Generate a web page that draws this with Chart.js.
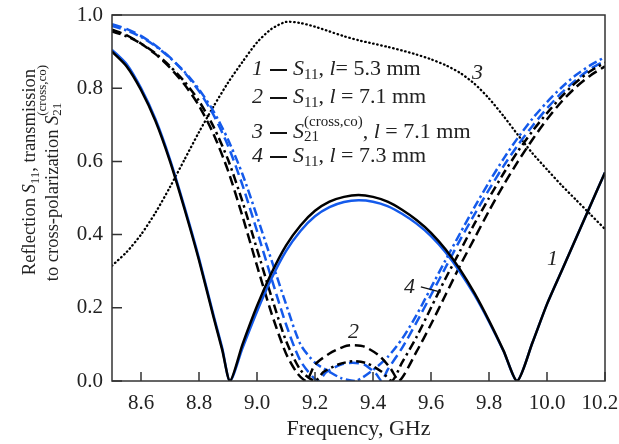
<!DOCTYPE html>
<html>
<head>
<meta charset="utf-8">
<script src="https://cdn.jsdelivr.net/npm/chart.js@4.4.1/dist/chart.umd.min.js"></script>
<style>
body { margin: 0; background: #fff; }
#wrap { position: relative; width: 619px; height: 444px; font-family: "Liberation Serif", serif; color: #222; }
canvas { position: absolute; left: 0; top: 0; }
.lbl { position: absolute; white-space: nowrap; font-size: 22px; line-height: 22px; }
.it { font-style: italic; }
.dash { display: inline-block; width: 17px; height: 2.4px; background: #111; vertical-align: middle; margin: 0 6px 0 7px; }
sub { font-size: 15px; vertical-align: -4px; line-height: 0; }
.stack { display: inline-block; vertical-align: -3px; font-size: 15px; line-height: 15px; }
.stack span { display: block; }
.ylab { position: absolute; white-space: nowrap; font-size: 18.5px; line-height: 19px; transform: translate(-50%, -50%) rotate(-90deg); }
.ylab sub, .ylab .stack { font-size: 13px; }
</style>
</head>
<body>
<div id="wrap">
<canvas id="myChart" width="619" height="444"></canvas>

<div class="ylab" style="left:29px;top:172px">Reflection <i>S</i><sub>11</sub>, transmission</div>
<div class="ylab" style="left:49px;top:173px">to cross-polarization <i>S</i><span class="stack"><span>(cross,co)</span><span>21</span></span></div>

<div class="lbl" style="left:252px;top:57px"><span class="it">1</span><span class="dash"></span><i>S</i><sub>11</sub>, <i>l</i>= 5.3 mm</div>
<div class="lbl" style="left:252px;top:85px"><span class="it">2</span><span class="dash"></span><i>S</i><sub>11</sub>, <i>l</i> = 7.1 mm</div>
<div class="lbl" style="left:252px;top:114px"><span class="it">3</span><span class="dash"></span><i>S</i><span class="stack"><span>(cross,co)</span><span>21</span></span>, <i>l</i> = 7.1 mm</div>
<div class="lbl" style="left:252px;top:144px"><span class="it">4</span><span class="dash"></span><i>S</i><sub>11</sub>, <i>l</i> = 7.3 mm</div>

<div class="lbl it" style="left:472px;top:61px">3</div>
<div class="lbl it" style="left:348px;top:320px">2</div>
<div class="lbl it" style="left:547px;top:247px">1</div>
<div class="lbl it" style="left:404px;top:275px">4</div>
</div>

<script>
// tick labels
const xTicks = [8.6, 8.8, 9.0, 9.2, 9.4, 9.6, 9.8, 10.0, 10.2];
const yTicks = [0, 0.2, 0.4, 0.6, 0.8, 1.0];

// curve 1, S11, l = 5.3 mm (black and blue solid)
const freq1 = [8.50,8.55,8.60,8.65,8.70,8.75,8.80,8.85,8.88,8.907,8.95,9.00,9.05,9.10,9.15,9.20,9.25,9.30,9.35,9.40,9.45,9.50,9.55,9.60,9.65,9.70,9.75,9.80,9.85,9.897,9.95,10.00,10.05,10.10,10.15,10.20];
const s11Black = [0.90,0.86,0.795,0.71,0.60,0.47,0.33,0.175,0.085,0,0.10,0.205,0.295,0.37,0.425,0.465,0.49,0.503,0.508,0.503,0.49,0.468,0.44,0.405,0.36,0.305,0.24,0.165,0.083,0,0.105,0.21,0.30,0.39,0.48,0.57];
const s11Blue = [0.905,0.866,0.80,0.715,0.605,0.475,0.335,0.18,0.09,0,0.09,0.19,0.28,0.355,0.41,0.45,0.475,0.489,0.494,0.49,0.478,0.457,0.43,0.396,0.352,0.298,0.235,0.162,0.082,0,0.105,0.21,0.30,0.39,0.48,0.57];

// curve 2, black dashed
const freqA = [8.50,8.55,8.60,8.65,8.70,8.75,8.80,8.85,8.90,8.95,9.00,9.05,9.10,9.14,9.17,9.20,9.25,9.30,9.33,9.37,9.42,9.46,9.49,9.55,9.60,9.65,9.70,9.75,9.80,9.85,9.90,9.95,10.00,10.05,10.10,10.15,10.20];
const valA = [0.96,0.945,0.922,0.893,0.856,0.81,0.752,0.675,0.575,0.45,0.315,0.185,0.075,0.02,0,0.045,0.075,0.094,0.098,0.094,0.07,0.035,0,0.08,0.155,0.235,0.315,0.39,0.465,0.535,0.60,0.66,0.715,0.763,0.803,0.835,0.86];

// curve 4, black dash-dot
const freqB = [8.50,8.55,8.60,8.65,8.70,8.75,8.80,8.85,8.90,8.95,9.00,9.05,9.10,9.15,9.20,9.23,9.28,9.33,9.38,9.43,9.465,9.50,9.55,9.60,9.65,9.70,9.75,9.80,9.85,9.90,9.95,10.00,10.05,10.10,10.15,10.20];
const valB = [0.955,0.942,0.922,0.895,0.86,0.818,0.765,0.695,0.605,0.49,0.36,0.23,0.11,0.03,0,0.025,0.045,0.054,0.048,0.025,0,0.05,0.12,0.20,0.28,0.355,0.43,0.50,0.567,0.628,0.683,0.732,0.777,0.816,0.847,0.87];

// blue dashed
const freqC1 = [8.50,8.55,8.60,8.65,8.70,8.75,8.80,8.85,8.90,8.95,9.00,9.05,9.10,9.15,9.21,9.24,9.29,9.33,9.37,9.41,9.43,9.45,9.50,9.55,9.60,9.65,9.70,9.75,9.80,9.85,9.90,9.95,10.00,10.05,10.10,10.15,10.20];
const valC1 = [0.975,0.962,0.943,0.917,0.884,0.843,0.792,0.727,0.643,0.535,0.41,0.28,0.155,0.055,0,0.025,0.045,0.05,0.045,0.02,0,0.03,0.09,0.16,0.235,0.31,0.385,0.455,0.523,0.587,0.645,0.697,0.745,0.787,0.823,0.853,0.875];

// blue dash-dot
const freqC2 = [8.50,8.55,8.60,8.65,8.70,8.75,8.80,8.85,8.90,8.95,9.00,9.05,9.10,9.15,9.20,9.25,9.29,9.34,9.40,9.45,9.50,9.55,9.60,9.65,9.70,9.75,9.80,9.85,9.90,9.95,10.00,10.05,10.10,10.15,10.20];
const valC2 = [0.97,0.958,0.94,0.915,0.883,0.845,0.797,0.737,0.66,0.565,0.45,0.33,0.21,0.1,0.05,0.025,0.008,0,0.03,0.065,0.115,0.18,0.255,0.33,0.403,0.475,0.543,0.607,0.665,0.717,0.762,0.802,0.836,0.863,0.885];

// curve 3, S21 cross-polarization (dotted)
const freq3 = [8.50,8.55,8.60,8.65,8.70,8.75,8.80,8.85,8.90,8.95,9.00,9.05,9.10,9.15,9.20,9.25,9.30,9.35,9.40,9.45,9.50,9.55,9.60,9.65,9.70,9.75,9.80,9.85,9.90,9.95,10.00,10.05,10.10,10.15,10.20];
const s21Cross = [0.315,0.352,0.40,0.46,0.53,0.605,0.68,0.75,0.815,0.872,0.925,0.962,0.981,0.978,0.968,0.955,0.942,0.931,0.922,0.913,0.903,0.892,0.879,0.863,0.842,0.812,0.772,0.724,0.672,0.622,0.578,0.535,0.495,0.455,0.415];

const BLUE = 'rgb(20,90,235)';
const FONT = '"Liberation Serif", serif';

function pts(xs, ys) {
    return xs.map((x, i) => ({ x: x, y: ys[i] }));
}

function line(data, color, dash, width) {
    return {
        data: data,
        borderColor: color,
        borderWidth: width || 2.5,
        borderDash: dash || [],
        pointRadius: 0,
        tension: 0.25,
        fill: false
    };
}

// box around the plot, inward ticks, leader line for label 4
const frame = {
    id: 'frame',
    afterDraw(chart) {
        const { ctx, chartArea: a, scales: { x, y } } = chart;
        ctx.save();
        ctx.strokeStyle = '#333';
        ctx.lineWidth = 1.5;
        ctx.strokeRect(a.left, a.top, a.right - a.left, a.bottom - a.top);
        ctx.beginPath();
        xTicks.forEach(v => {
            const px = x.getPixelForValue(v);
            ctx.moveTo(px, a.bottom);
            ctx.lineTo(px, a.bottom - 9);
        });
        yTicks.forEach(v => {
            const py = y.getPixelForValue(v);
            ctx.moveTo(a.left, py);
            ctx.lineTo(a.left + 10, py);
        });
        ctx.stroke();
        // leader for "4"
        ctx.lineWidth = 1.2;
        ctx.strokeStyle = '#111';
        ctx.beginPath();
        ctx.moveTo(x.getPixelForValue(9.565), y.getPixelForValue(0.257));
        ctx.lineTo(x.getPixelForValue(9.634), y.getPixelForValue(0.243));
        ctx.stroke();
        ctx.restore();
    }
};

function makeChart() {
    const ctx = document.getElementById('myChart').getContext('2d');
    return new Chart(ctx, {
        type: 'line',
        data: {
            datasets: [
                line(pts(freq1, s11Black), '#000'),
                line(pts(freq1, s11Blue), BLUE),
                line(pts(freqA, valA), '#000', [10, 5]),
                line(pts(freqB, valB), '#000', [9, 4, 2.5, 4]),
                line(pts(freqC1, valC1), BLUE, [10, 5]),
                line(pts(freqC2, valC2), BLUE, [9, 3.5, 2.5, 3.5]),
                Object.assign(line(pts(freq3, s21Cross), '#000', [0.5, 3.6], 2.3), { borderCapStyle: 'round' })
            ]
        },
        options: {
            responsive: false,
            animation: false,
            layout: { padding: { left: 0, right: 14, top: 15, bottom: 0 } },
            plugins: { legend: { display: false }, tooltip: { enabled: false } },
            scales: {
                x: {
                    type: 'linear', min: 8.5, max: 10.2,
                    grid: { display: false }, border: { display: false },
                    afterBuildTicks: s => { s.ticks = xTicks.map(v => ({ value: v })); },
                    afterFit: s => { s.height = 63; s.paddingRight = 0; s.paddingLeft = 0; },
                    // last label nudged left so it stays inside the page
                    ticks: { font: { family: FONT, size: 21 }, color: '#222', padding: 2, maxRotation: 0,
                             callback: v => Math.abs(v - 10.2) < 1e-6 ? v.toFixed(1) + '\u2002' : v.toFixed(1) },
                    title: { display: true, text: 'Frequency, GHz', font: { family: FONT, size: 22 }, color: '#222', padding: { top: 0, bottom: 2 } }
                },
                y: {
                    type: 'linear', min: 0, max: 1,
                    grid: { display: false }, border: { display: false },
                    afterBuildTicks: s => { s.ticks = yTicks.map(v => ({ value: v })); },
                    afterFit: s => { s.width = 112; s.paddingTop = 0; s.paddingBottom = 0; },
                    ticks: { font: { family: FONT, size: 21 }, color: '#222', padding: 1, callback: v => v.toFixed(1) }
                }
            }
        },
        plugins: [frame]
    });
}

makeChart();
</script>
</body>
</html>
